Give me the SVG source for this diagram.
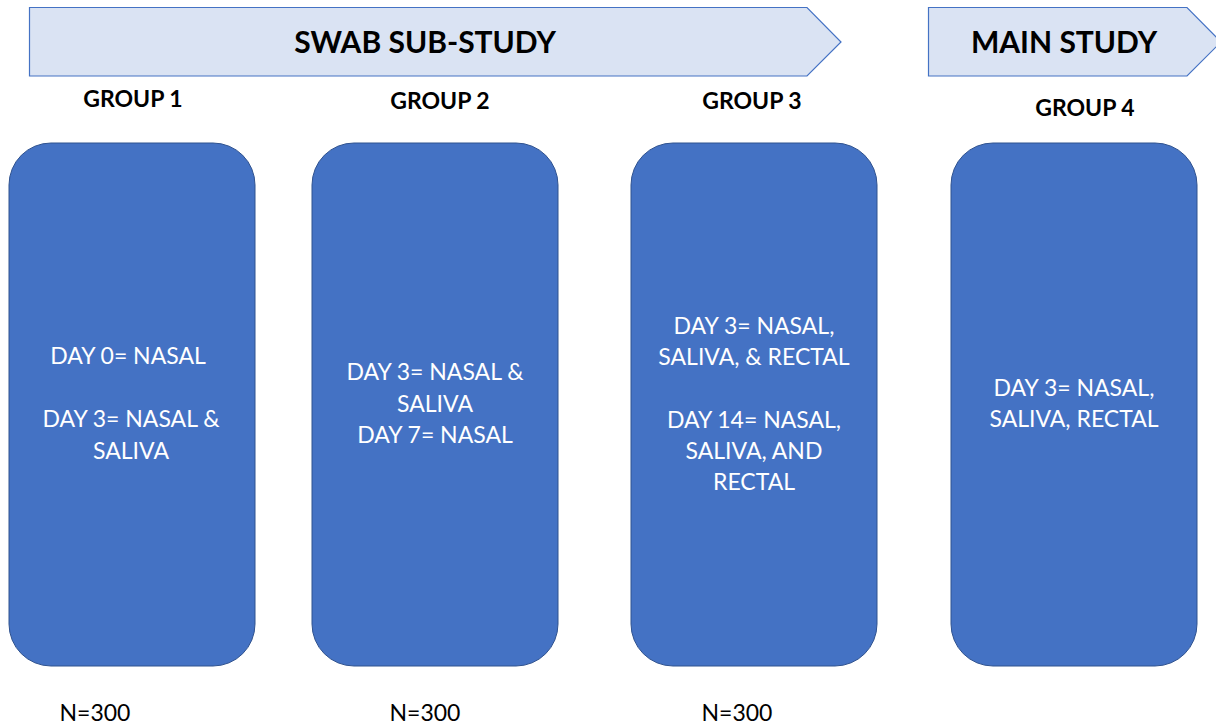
<svg xmlns="http://www.w3.org/2000/svg" width="1216" height="726" viewBox="0 0 1216 726">
<style>
.banner{fill:#DAE3F3;stroke:#4472C4;stroke-width:1.2}
.box{fill:#4472C4;stroke:#2F528F;stroke-width:1}
.title{font-family:Lato,"Open Sans",sans-serif;font-weight:bold;font-size:30px;fill:#000;text-anchor:middle}
.grp{font-family:Lato,"Open Sans",sans-serif;font-weight:bold;font-size:23px;fill:#000;text-anchor:middle}
.bt{font-family:Lato,"Open Sans",sans-serif;font-size:23px;fill:#fff;text-anchor:middle}
.n{font-family:Lato,"Open Sans",sans-serif;font-size:23px;fill:#000;text-anchor:middle}
</style>
<rect width="1216" height="726" fill="#fff"/>
<g id="banner-swab">
<path class="banner" d="M29.5,7.5 H807 L841,42 L807,76 H29.5 Z"/>
<text class="title" x="425" y="53">SWAB SUB-STUDY</text>
</g>
<g id="banner-main">
<path class="banner" d="M928.5,7.5 H1187 L1221,42 L1187,76 H928.5 Z"/>
<text class="title" x="1064" y="53">MAIN STUDY</text>
</g>
<g id="group1">
<text class="grp" x="133" y="107">GROUP 1</text>
<rect class="box" x="9" y="143" width="246" height="523" rx="42" ry="42"/>
<text class="bt" x="128" y="364">DAY 0= NASAL</text>
<text class="bt" x="131" y="427">DAY 3= NASAL &amp;</text>
<text class="bt" x="131" y="459">SALIVA</text>
<text class="n" x="95" y="721">N=300</text>
</g>
<g id="group2">
<text class="grp" x="440" y="109">GROUP 2</text>
<rect class="box" x="312" y="143" width="246" height="523" rx="42" ry="42"/>
<text class="bt" x="435" y="380">DAY 3= NASAL &amp;</text>
<text class="bt" x="435" y="412">SALIVA</text>
<text class="bt" x="435" y="443">DAY 7= NASAL</text>
<text class="n" x="425" y="721">N=300</text>
</g>
<g id="group3">
<text class="grp" x="752" y="109">GROUP 3</text>
<rect class="box" x="631" y="143" width="246" height="523" rx="42" ry="42"/>
<text class="bt" x="754" y="334">DAY 3= NASAL,</text>
<text class="bt" x="754" y="365">SALIVA, &amp; RECTAL</text>
<text class="bt" x="754" y="428">DAY 14= NASAL,</text>
<text class="bt" x="754" y="459">SALIVA, AND</text>
<text class="bt" x="754" y="490">RECTAL</text>
<text class="n" x="737" y="721">N=300</text>
</g>
<g id="group4">
<text class="grp" x="1085" y="116">GROUP 4</text>
<rect class="box" x="951" y="143" width="246" height="523" rx="42" ry="42"/>
<text class="bt" x="1074" y="396">DAY 3= NASAL,</text>
<text class="bt" x="1074" y="427">SALIVA, RECTAL</text>
</g>
<g id="connectors"></g>
</svg>
